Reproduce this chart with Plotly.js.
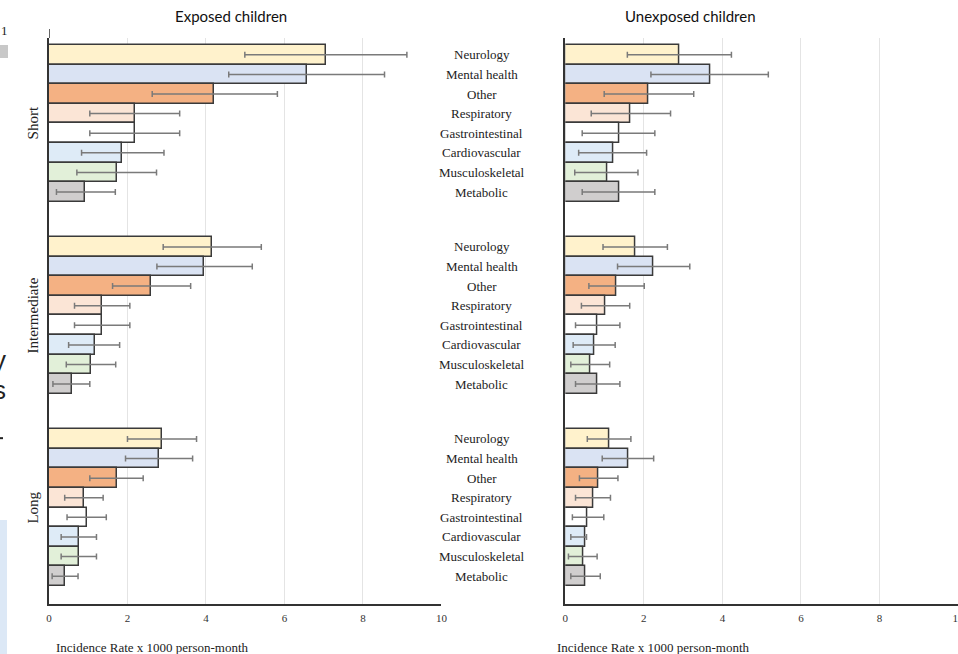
<!DOCTYPE html>
<html>
<head>
<meta charset="utf-8">
<script src="https://cdn.plot.ly/plotly-3.0.1.min.js"></script>
<style>html,body{margin:0;padding:0;background:#fff;}#chart{width:958px;height:654px;}</style>
</head>
<body>
<div id="chart"></div>
<script>
// ---------- data ----------
const categories = ['Neurology', 'Mental health', 'Other', 'Respiratory', 'Gastrointestinal', 'Cardiovascular', 'Musculoskeletal', 'Metabolic'];
const durations = ['Short', 'Intermediate', 'Long'];
const panelTitles = ['Exposed children', 'Unexposed children'];
const xTitle = 'Incidence Rate x 1000 person-month';
const xTicks = [0, 2, 4, 6, 8, 10];
const barColors = ['#FFF2CC', '#DAE3F3', '#F4B183', '#FBE5D6', '#FFFFFF', '#DEEBF7', '#E2F0D9', '#D0CECE'];

// Exposed children
const exposedShortRate = [7.06, 6.57, 4.21, 2.19, 2.19, 1.87, 1.72, 0.93];
const exposedShortLow  = [4.99, 4.58, 2.63, 1.04, 1.04, 0.83, 0.71, 0.19];
const exposedShortHigh = [9.12, 8.55, 5.82, 3.33, 3.33, 2.93, 2.74, 1.69];
const exposedInterRate = [4.16, 3.95, 2.61, 1.35, 1.35, 1.17, 1.07, 0.59];
const exposedInterLow  = [2.91, 2.75, 1.62, 0.65, 0.65, 0.50, 0.44, 0.10];
const exposedInterHigh = [5.41, 5.18, 3.61, 2.06, 2.06, 1.80, 1.70, 1.04];
const exposedLongRate  = [2.89, 2.81, 1.72, 0.89, 0.96, 0.76, 0.76, 0.41];
const exposedLongLow   = [2.00, 1.95, 1.04, 0.40, 0.46, 0.31, 0.31, 0.08];
const exposedLongHigh  = [3.76, 3.66, 2.40, 1.38, 1.46, 1.21, 1.21, 0.74];

// Unexposed children
const unexposedShortRate = [2.90, 3.68, 2.12, 1.66, 1.37, 1.21, 1.06, 1.37];
const unexposedShortLow  = [1.58, 2.18, 0.99, 0.66, 0.43, 0.34, 0.24, 0.43];
const unexposedShortHigh = [4.23, 5.17, 3.27, 2.68, 2.28, 2.07, 1.85, 2.28];
const unexposedInterRate = [1.79, 2.25, 1.30, 1.02, 0.82, 0.73, 0.63, 0.82];
const unexposedInterLow  = [0.96, 1.33, 0.60, 0.41, 0.26, 0.20, 0.14, 0.26];
const unexposedInterHigh = [2.60, 3.17, 2.01, 1.64, 1.39, 1.27, 1.13, 1.39];
const unexposedLongRate  = [1.11, 1.61, 0.85, 0.71, 0.56, 0.51, 0.45, 0.51];
const unexposedLongLow   = [0.56, 0.94, 0.36, 0.26, 0.18, 0.14, 0.08, 0.14];
const unexposedLongHigh  = [1.67, 2.25, 1.34, 1.15, 0.98, 0.54, 0.81, 0.89];

// ---------- layout helpers ----------
const groupPitch = 9.8;   // slots between group starts
const slotOf = (g, i) => g * groupPitch + i;

function buildTrace(rates, lows, highs, xa, ya) {
  const y = [], x = [], plus = [], minus = [], colors = [], text = [];
  for (let g = 0; g < durations.length; g++) {
    for (let i = 0; i < categories.length; i++) {
      y.push(slotOf(g, i));
      x.push(rates[g][i]);
      plus.push(highs[g][i] - rates[g][i]);
      minus.push(rates[g][i] - lows[g][i]);
      colors.push(barColors[i]);
      text.push(durations[g] + ' – ' + categories[i]);
    }
  }
  return {
    type: 'bar', orientation: 'h', x: x, y: y, width: 1,
    xaxis: xa, yaxis: ya, hovertext: text, hoverinfo: 'text+x',
    marker: { color: colors, line: { color: '#3a3a3a', width: 1.5 } },
    error_x: { type: 'data', symmetric: false, array: plus, arrayminus: minus,
               color: '#7a7a7a', thickness: 1.5, width: 3 },
    showlegend: false
  };
}

const traces = [
  buildTrace([exposedShortRate, exposedInterRate, exposedLongRate],
             [exposedShortLow, exposedInterLow, exposedLongLow],
             [exposedShortHigh, exposedInterHigh, exposedLongHigh], 'x', 'y'),
  buildTrace([unexposedShortRate, unexposedInterRate, unexposedLongRate],
             [unexposedShortLow, unexposedInterLow, unexposedLongLow],
             [unexposedShortHigh, unexposedInterHigh, unexposedLongHigh], 'x2', 'y2')
];

const serif = 'Liberation Serif, Times New Roman, serif';
const yRange = [28.02, -0.857];

const xAxisCommon = {
  range: [0, 10], tickvals: xTicks, ticktext: xTicks.map(String),
  showgrid: true, gridcolor: '#e4e4e4', gridwidth: 1,
  zeroline: false, showline: true, linecolor: '#333', linewidth: 1.5,
  ticks: '', tickfont: { family: serif, size: 11, color: '#333' },
  ticklabelstandoff: 3,
  ticklabeloverflow: 'allow', fixedrange: true
};
const yAxisCommon = {
  range: yRange, showgrid: false, zeroline: false, showticklabels: false,
  showline: true, linecolor: '#333', linewidth: 1.5, ticks: '', domain: [0, 1], fixedrange: true
};

const annotations = [];
for (let g = 0; g < durations.length; g++) {
  for (let i = 0; i < categories.length; i++) {
    annotations.push({ text: categories[i], xref: 'paper', yref: 'y', x: 0.4763, y: slotOf(g, i),
      xanchor: 'center', yanchor: 'middle', showarrow: false,
      font: { family: serif, size: 13, color: '#222' } });
  }
  annotations.push({ text: durations[g], xref: 'paper', yref: 'y', x: -0.0176, y: slotOf(g, 3.5),
    textangle: -90, xanchor: 'center', yanchor: 'middle', showarrow: false,
    font: { family: serif, size: 15, color: '#222' } });
}
annotations.push({ text: panelTitles[0], xref: 'paper', yref: 'paper', x: 0.2002, y: 1.0389,
  xanchor: 'center', yanchor: 'middle', showarrow: false, font: { family: 'Lato, sans-serif', size: 15, color: '#111' } });
annotations.push({ text: panelTitles[1], xref: 'paper', yref: 'paper', x: 0.7057, y: 1.0389,
  xanchor: 'center', yanchor: 'middle', showarrow: false, font: { family: 'Lato, sans-serif', size: 15, color: '#111' } });
annotations.push({ text: xTitle, xref: 'paper', yref: 'paper', x: 0.0055, y: -0.076,
  xanchor: 'left', yanchor: 'middle', showarrow: false, font: { family: serif, size: 13, color: '#222' } });
annotations.push({ text: xTitle, xref: 'paper', yref: 'paper', x: 0.5567, y: -0.076,
  xanchor: 'left', yanchor: 'middle', showarrow: false, font: { family: serif, size: 13, color: '#222' } });
// cropped fragments at the left edge of the original figure
annotations.push({ text: '1', xref: 'paper', yref: 'paper', x: -0.0495, y: 1.0141,
  xanchor: 'center', yanchor: 'middle', showarrow: false, font: { family: serif, size: 13, color: '#222' } });
annotations.push({ text: 'y', xref: 'paper', yref: 'paper', x: -0.0451, y: 0.431,
  xanchor: 'right', yanchor: 'middle', showarrow: false, font: { family: 'Liberation Sans, sans-serif', size: 26, color: '#222' } });
annotations.push({ text: 's', xref: 'paper', yref: 'paper', x: -0.0451, y: 0.378,
  xanchor: 'right', yanchor: 'middle', showarrow: false, font: { family: 'Liberation Sans, sans-serif', size: 26, color: '#222' } });

const shapes = [
  // top extension of the left y axis line
  { type: 'line', xref: 'x', yref: 'paper', x0: 0, x1: 0, y0: 1, y1: 1.0159, line: { color: '#333', width: 1.5 } },
  // cropped fragments
  { type: 'rect', xref: 'paper', yref: 'paper', x0: -0.0545, x1: -0.0451, y0: 0.9647, y1: 0.9876, fillcolor: '#c8c8c8', line: { width: 0 } },
  { type: 'line', xref: 'paper', yref: 'paper', x0: -0.0545, x1: -0.0506, y0: 0.293, y1: 0.293, line: { color: '#222', width: 2 } },
  { type: 'rect', xref: 'paper', yref: 'paper', x0: -0.0545, x1: -0.0462, y0: -0.0883, y1: 0.1484, fillcolor: '#dce8f6', line: { width: 0 } }
];

const layout = {
  width: 958, height: 654,
  margin: { l: 49, r: 0, t: 38, b: 50, pad: 0 },
  paper_bgcolor: '#ffffff', plot_bgcolor: 'rgba(0,0,0,0)',
  bargap: 0, barmode: 'overlay', showlegend: false,
  xaxis: Object.assign({}, xAxisCommon, { domain: [0, 0.4317], anchor: 'y' }),
  xaxis2: Object.assign({}, xAxisCommon, { domain: [0.568, 1.0], anchor: 'y2' }),
  yaxis: Object.assign({}, yAxisCommon, { anchor: 'x' }),
  yaxis2: Object.assign({}, yAxisCommon, { anchor: 'x2' }),
  annotations: annotations,
  shapes: shapes
};

Plotly.newPlot('chart', traces, layout, { displayModeBar: false, staticPlot: false });
</script>
</body>
</html>
